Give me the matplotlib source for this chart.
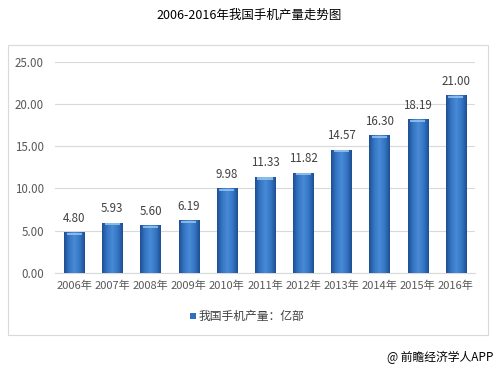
import numpy as np
import matplotlib
matplotlib.use('Agg')
from matplotlib import pyplot as plt
from matplotlib.patches import Rectangle
from matplotlib.colors import LinearSegmentedColormap

plt.rcParams['font.family'] = ['Noto Sans CJK SC', 'DejaVu Sans']

years = ['2006年', '2007年', '2008年', '2009年', '2010年', '2011年',
         '2012年', '2013年', '2014年', '2015年', '2016年']
output = [4.80, 5.93, 5.60, 6.19, 9.98, 11.33, 11.82, 14.57, 16.30, 18.19, 21.00]
yticks = [0, 5, 10, 15, 20, 25]

fig = plt.figure(figsize=(4.99, 3.71), dpi=100)
fig.patch.set_facecolor('white')

# outer frame of the chart
fig.patches.append(Rectangle((8 / 499, 1 - 335 / 371), 480 / 499, 290 / 371,
                             transform=fig.transFigure, fill=False,
                             edgecolor='#d9d9d9', linewidth=0.8))

ax = fig.add_axes([55 / 499, 1 - 272.7 / 371, 420 / 499, 211 / 371])
x = np.arange(len(years))
bars = ax.bar(x, output, width=0.53, color='#2e6fbe', zorder=2)

# horizontal shading on bars: darker edges, lighter middle
cmap = LinearSegmentedColormap.from_list('barshade', ['#1f4f92', '#3577c6', '#4a8ad6', '#3577c6', '#1f4f92'])
grad = np.linspace(0, 1, 64).reshape(1, -1)
for b in bars:
    bx, bw, bh = b.get_x(), b.get_width(), b.get_height()
    im = ax.imshow(grad, cmap=cmap, aspect='auto', extent=(bx, bx + bw, 0, bh), zorder=3)
    im.set_clip_path(b)
    # light cap on top
    ax.bar(bx + bw / 2, 0.25, width=bw * 0.75, bottom=bh - 0.3,
           color='#9cc8f0', alpha=0.8, zorder=4, linewidth=0)

for xi, v in zip(x, output):
    ax.text(xi, v + 0.9, '%.2f' % v, ha='center', va='bottom', fontsize=8.3, color='#404040')

ax.set_xlim(-0.5, 10.5)
ax.set_ylim(0, 25)
ax.set_yticks(yticks)
ax.set_yticklabels(['%.2f' % t for t in yticks])
ax.set_xticks(x)
ax.set_xticklabels(years)
ax.tick_params(axis='both', length=0, labelsize=8, colors='#595959')
ax.tick_params(axis='y', pad=8, labelsize=8.3)
ax.tick_params(axis='x', pad=6)
ax.grid(axis='y', color='#d9d9d9', linewidth=0.8, zorder=0)
ax.set_axisbelow(True)
for s in ['top', 'right', 'left']:
    ax.spines[s].set_visible(False)
ax.spines['bottom'].set_color('#d9d9d9')

fig.text(0.5, 1 - 15 / 371, '2006-2016年我国手机产量走势图', ha='center', va='center',
         fontsize=9, color='black')

# legend
fig.patches.append(Rectangle((190 / 499, 1 - 319 / 371), 6 / 499, 6 / 371,
                             transform=fig.transFigure, facecolor='#2e6fbe', edgecolor='none'))
fig.text(199 / 499, 1 - 316 / 371, '我国手机产量：亿部', ha='left', va='center',
         fontsize=8.5, color='#404040')

fig.text(493 / 499, 1 - 357 / 371, '@ 前瞻经济学人APP', ha='right', va='center',
         fontsize=8.5, color='black')

plt.savefig('out.png', dpi=100)
